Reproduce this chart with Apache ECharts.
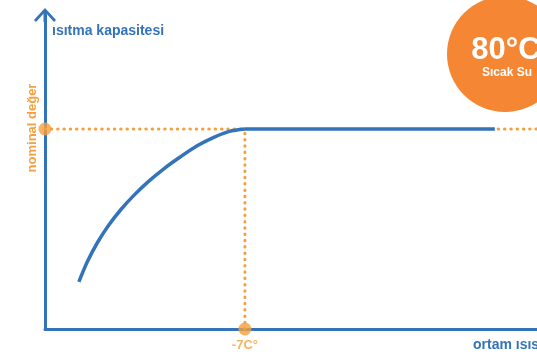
<!DOCTYPE html>
<html lang="tr">
<head>
    <meta charset="UTF-8">
    <title>Isıtma kapasitesi</title>
    <script src="https://cdn.jsdelivr.net/npm/echarts@6/dist/echarts.min.js"></script>
    <style>
        html, body { margin: 0; padding: 0; background: #fff; }
        #main { width: 537px; height: 355px; }
    </style>
</head>
<body>
<div id="main"></div>
<script>
    // eğri verisi (ortam ısısı °C, kapasite %)
    var capX = [-21.95, -21.2, -20.3, -19.3, -18.2, -17, -15.7, -14.3, -12.8, -11.3, -9.8, -8.4, -7];
    var capY = [23.6, 33.5, 43.0, 51.6, 59.5, 66.8, 73.7, 80.1, 86.1, 91.6, 95.8, 98.8, 100];
    var flatX = [-7, 15.5];
    var nominal = 100;
    var kneeX = -7;
    var xMin = -25, xMax = 19.3, yMax = 157;
    var tailX = [15.8, 19.3];
    var kneeLabel = '-7C°';

    var blue = '#3273b9';
    var orange = '#f5a03c';
    var font = '"Liberation Sans", Arial, sans-serif';

    var chart = echarts.init(document.getElementById('main'));

    var dotLine = {
        color: orange,
        width: 3,
        type: [0.5, 5.8],
        cap: 'round'
    };

    var option = {
        animation: false,
        grid: { left: 45, right: 0, top: 15, bottom: 26 },
        xAxis: {
            type: 'value',
            min: xMin,
            max: xMax,
            axisLine: { onZero: false, lineStyle: { color: blue, width: 3 } },
            axisTick: { show: false },
            axisLabel: { show: false },
            splitLine: { show: false }
        },
        yAxis: {
            type: 'value',
            min: 0,
            max: yMax,
            axisLine: {
                show: true,
                onZero: false,
                symbol: ['none', 'path://M0,12 L11,0 L22,12 L20,14 L11,4 L2,14 Z M9.5,2 L12.5,2 L12.5,14 L9.5,14 Z'],
                symbolSize: [22, 14],
                lineStyle: { color: blue, width: 3 }
            },
            axisTick: { show: false },
            axisLabel: { show: false },
            splitLine: { show: false }
        },
        series: [
            {
                type: 'line',
                data: [[xMin, nominal], [kneeX, nominal]],
                symbol: 'none',
                lineStyle: dotLine,
                z: 1
            },
            {
                type: 'line',
                data: [[kneeX, 0], [kneeX, nominal]],
                symbol: 'none',
                lineStyle: dotLine,
                z: 1
            },
            {
                type: 'line',
                data: tailX.map(function (x) { return [x, nominal]; }),
                symbol: 'none',
                lineStyle: dotLine,
                z: 1
            },
            {
                type: 'line',
                data: capX.map(function (x, i) { return [x, capY[i]]; }),
                symbol: 'none',
                smooth: 0.3,
                lineStyle: { color: blue, width: 3.5 },
                z: 2
            },
            {
                type: 'line',
                data: flatX.map(function (x) { return [x, nominal]; }),
                symbol: 'none',
                lineStyle: { color: blue, width: 3.5 },
                z: 2
            },
            {
                type: 'scatter',
                symbolSize: 13,
                itemStyle: { color: orange },
                z: 5,
                data: [
                    { value: [xMin, nominal] },
                    {
                        value: [kneeX, 0],
                        label: {
                            show: true,
                            position: 'bottom',
                            distance: 3,
                            formatter: kneeLabel,
                            color: orange,
                            fontFamily: font,
                            fontWeight: 'bold',
                            fontSize: 13
                        }
                    }
                ]
            }
        ],
        graphic: [
            {
                type: 'text',
                left: 52,
                top: 24,
                style: { text: 'ısıtma kapasitesi', fill: blue, font: 'bold 14px ' + font }
            },
            {
                type: 'text',
                x: 32,
                y: 128,
                rotation: Math.PI / 2,
                style: {
                    text: 'nominal değer', fill: orange, font: 'bold 13px ' + font,
                    align: 'center', verticalAlign: 'middle'
                }
            },
            {
                type: 'text',
                left: 473,
                top: 338,
                style: { text: 'ortam ısısı', fill: blue, font: 'bold 14px ' + font }
            },
            {
                type: 'circle',
                shape: { cx: 505, cy: 54, r: 58 },
                style: { fill: '#f58633' },
                z: 10
            },
            {
                type: 'text',
                x: 506,
                y: 50,
                z: 11,
                style: {
                    text: '80°C', fill: '#fff', font: 'bold 31px ' + font,
                    align: 'center', verticalAlign: 'middle'
                }
            },
            {
                type: 'text',
                x: 507,
                y: 73,
                z: 11,
                style: {
                    text: 'Sıcak Su', fill: '#fff', font: 'bold 12px ' + font,
                    align: 'center', verticalAlign: 'middle'
                }
            }
        ]
    };

    chart.setOption(option);
</script>
</body>
</html>
